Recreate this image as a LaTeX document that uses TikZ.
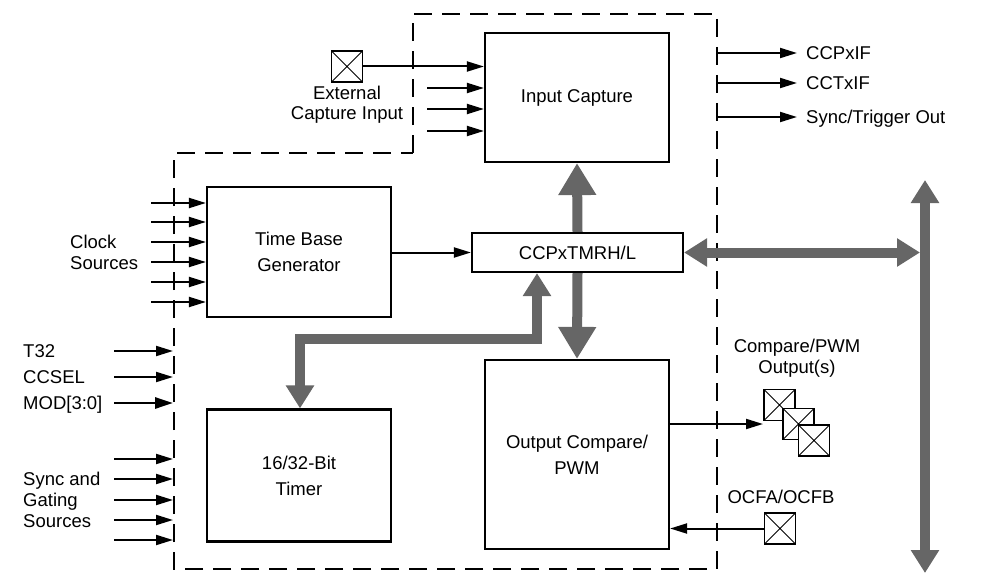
\documentclass[tikz,border=0pt]{standalone}
\usepackage{fontspec}
\setmainfont{Liberation Sans}
\usetikzlibrary{arrows.meta}
\definecolor{busgray}{RGB}{102,102,102}
\begin{document}
\begin{tikzpicture}[x=1pt,y=-1pt,
  box/.style={draw,line width=2.2pt,minimum width=184pt,inner sep=0pt,align=center,font=\fontsize{18.5}{26}\selectfont},
  lbl/.style={inner sep=0pt,align=center,font=\fontsize{18.5}{21}\selectfont},
  slbl/.style={inner sep=0pt,anchor=base west,font=\fontsize{18.5}{21}\selectfont},
  sig/.style={line width=2pt,-{Triangle[length=17pt,width=10pt]}},
  sigthick/.style={line width=2.8pt,-{Triangle[length=18pt,width=11pt]}},
  bigbus/.style={draw=busgray,line width=10pt,-{Triangle[length=32pt,width=36pt]}},
  smallbus/.style={draw=busgray,line width=10pt,line join=miter,{Triangle[length=23pt,width=27pt]}-{Triangle[length=23pt,width=27pt]}},
  xbox/.style={draw,line width=1.8pt,minimum size=31pt,inner sep=0pt,fill=white,
    path picture={\draw[line width=0.8pt] (path picture bounding box.north west) -- (path picture bounding box.south east)
      (path picture bounding box.north east) -- (path picture bounding box.south west);}},
  boundary/.style={line width=2pt,dash pattern=on 18pt off 10pt}
]
\useasboundingbox (0,0) rectangle (986,586);

% dashed module boundary
\draw[boundary] (413,153) -- (413,14) -- (717,14) -- (717,569) -- (174,569) -- (174,153) -- cycle;

% blocks
\node[box,minimum height=129pt] (ic) at (577,97.5) {Input Capture};
\node[box,minimum height=130pt] (tb) at (299,252) {Time Base\\Generator};
\node[box,minimum width=211pt,minimum height=39pt] (ccp) at (577.5,252.5) {CCPxTMRH/L};
\node[box,minimum height=132pt] (tmr) at (299,475.5) {16/32-Bit\\Timer};
\node[box,minimum height=189pt] (oc) at (577,454.5) {Output Compare/\\PWM};

% external capture input
\node[xbox] (ext) at (347,66.5) {};
\node[lbl,font=\fontsize{18.5}{19.5}\selectfont] (extl) at (347,104.5) {External\\Capture Input};
\draw[sig] (ext.east) -- (ext.east -| ic.west);
\foreach \yy [count=\i] in {88,109,131}{
  \coordinate (ici\i) at (427,\yy);
  \draw[sig] (ici\i) -- (ici\i -| ic.west);
}

% outputs top right
\foreach \yy/\txt [count=\i] in {53/CCPxIF,83/CCTxIF,117/Sync\slash Trigger Out}{
  \coordinate (os\i) at (717,\yy);
  \coordinate (oe\i) at (797,\yy);
  \node[slbl] (ol\i) at (806,\yy+6.7) {\txt};
  \draw[sig] (os\i) -- (oe\i);
}

% clock sources
\foreach \yy [count=\i] in {203,222,242,262,282,302}{
  \coordinate (cs\i) at (151,\yy);
  \draw[sig] (cs\i) -- (cs\i -| tb.west);
}
\node[lbl,align=left,anchor=west] (clk) at (70,252) {Clock\\Sources};

% control inputs
\foreach \yy/\txt [count=\i] in {351/T32,377/CCSEL}{
  \coordinate (ca\i) at (114,\yy);
  \coordinate (cb\i) at (173,\yy);
  \draw[sig] (ca\i) -- (cb\i);
  \node[slbl] (cl\i) at (23,\yy+6.7) {\txt};
}
\coordinate (ca3) at (114,403);
\coordinate (cb3) at (173,403);
\draw[sigthick] (ca3) -- (cb3);
\node[slbl] (cl3) at (23,403+6.7) {MOD[3:0]};

% sync and gating
\foreach \yy [count=\i] in {459,479,500,520,540}{
  \coordinate (sa\i) at (114,\yy);
  \coordinate (sb\i) at (173,\yy);
  \draw[sig] (sa\i) -- (sb\i);
}
\node[lbl,align=left,anchor=west] (sg) at (23,500) {Sync and\\Gating\\Sources};

% time base -> CCPxTMR
\draw[sig] (tb.east |- ccp.west) -- (ccp.west);

% thick busses
\draw[bigbus] (ccp.north) -- (ic.south);
\draw[bigbus] (ccp.south) -- (oc.north);
\coordinate (tm1) at (300,339);
\coordinate (tm2) at (537,339);
\draw[smallbus] (tmr.north -| tm1) -- (tm1) -- (tm2) -- (tm2 |- ccp.south);
\coordinate (bt) at (925,180);
\coordinate (bb) at (925,573);
\draw[smallbus] (bt) -- (bb);
\draw[smallbus] (ccp.east) -- (ccp.east -| 920,0);

% compare / pwm outputs
\node[lbl] (cpl) at (797,358.5) {Compare/PWM\\Output(s)};
\node[xbox] (cp1) at (779.5,405) {};
\node[xbox] (cp2) at (798.5,424) {};
\node[xbox] (cp3) at (814,440.5) {};
\coordinate (cpin) at (763,424);
\draw[sig] (cpin -| oc.east) -- (cpin);

% OCFA/OCFB
\node[lbl] (ocfl) at (781,497) {OCFA/OCFB};
\node[xbox] (ocf) at (780,528.5) {};
\draw[sig] (ocf.west) -- (ocf.west -| oc.east);
\end{tikzpicture}
\end{document}
